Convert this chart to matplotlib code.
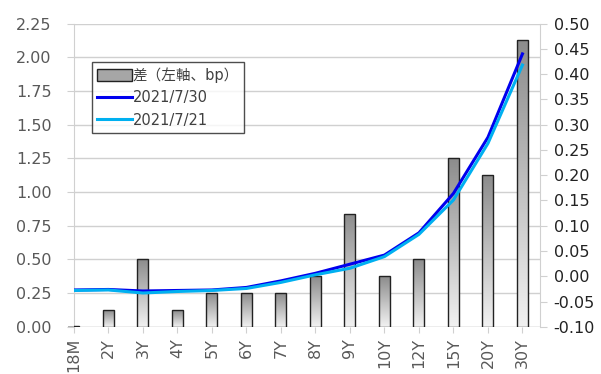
import numpy as np
import matplotlib
matplotlib.use("Agg")
import matplotlib.pyplot as plt
from matplotlib.patches import Patch
from matplotlib.lines import Line2D

plt.rcParams['font.family'] = ['DejaVu Sans', 'Noto Sans CJK JP']

# data
tenors = ['18M', '2Y', '3Y', '4Y', '5Y', '6Y', '7Y', '8Y', '9Y', '10Y', '12Y', '15Y', '20Y', '30Y']
diff_bp = [0.005, 0.125, 0.5, 0.125, 0.25, 0.25, 0.25, 0.375, 0.84, 0.375, 0.5, 1.25, 1.125, 2.125]
yld_0730 = [-0.027, -0.026, -0.029, -0.028, -0.027, -0.022, -0.009, 0.006, 0.024, 0.042, 0.086, 0.164, 0.275, 0.44]
yld_0721 = [-0.028, -0.027, -0.033, -0.030, -0.028, -0.024, -0.012, 0.003, 0.016, 0.039, 0.083, 0.151, 0.263, 0.418]

left_ticks = np.arange(0, 2.26, 0.25)
right_ticks = np.arange(-0.10, 0.501, 0.05)
gray_txt = '#595959'
grid_col = '#d0d0d0'

fig = plt.figure(figsize=(6.01, 3.74), dpi=100)
ax = fig.add_axes([0.123, 0.126, 0.775, 0.811])
x = np.arange(len(tenors))

bars = ax.bar(x, diff_bp, width=0.32, color='none', edgecolor='#222222', linewidth=1.0, zorder=3)
# vertical gradient fill for each bar
grad = np.linspace(0, 1, 256).reshape(-1, 1)
cmap = matplotlib.colors.LinearSegmentedColormap.from_list('g', ['#f2f2f2', '#8c8c8c'])
for b in bars:
    bx, by = b.get_x(), b.get_y()
    w, h = b.get_width(), b.get_height()
    im = ax.imshow(grad, extent=[bx, bx + w, by, by + h], aspect='auto', origin='lower',
                   cmap=cmap, zorder=2)
    im.set_clip_path(b)

ax.set_xlim(0, 13.5)
ax.set_ylim(0, 2.25)
ax.set_yticks(left_ticks)
ax.set_yticklabels([f'{v:.2f}' for v in left_ticks])
ax.set_xticks(x)
ax.set_xticklabels(tenors, rotation=90)
ax.grid(axis='y', color=grid_col, linewidth=1.0, zorder=0)
ax.set_axisbelow(True)
for s in ['top', 'right', 'bottom']:
    ax.spines[s].set_visible(False)
ax.spines['left'].set_color(grid_col)
ax.tick_params(axis='y', colors=grid_col, labelcolor=gray_txt, labelsize=11.5, length=5, pad=11)
ax.tick_params(axis='x', colors=grid_col, labelcolor=gray_txt, labelsize=11.5, length=4, pad=4)
ax.axhline(0, color=grid_col, linewidth=1.0, zorder=1)

ax2 = ax.twinx()
ax2.plot(x, yld_0730, color='#0000ee', linewidth=2.2, zorder=4)
ax2.plot(x, yld_0721, color='#00b0f0', linewidth=2.2, zorder=4)
ax2.set_ylim(-0.10, 0.50)
ax2.set_yticks(right_ticks)
ax2.set_yticklabels([f'{v:.2f}' for v in right_ticks])
for s in ['top', 'left', 'bottom']:
    ax2.spines[s].set_visible(False)
ax2.spines['right'].set_color(grid_col)
ax2.tick_params(axis='y', colors=grid_col, labelcolor='#222222', labelsize=11.5, length=5, pad=5)

handles = [Patch(facecolor='#a6a6a6', edgecolor='#222222', linewidth=1.0),
           Line2D([], [], color='#0000ee', linewidth=2.2),
           Line2D([], [], color='#00b0f0', linewidth=2.2)]
labels = ['差（左軸、bp）', '2021/7/30', '2021/7/21']
leg = ax2.legend(handles, labels, loc='upper left', bbox_to_anchor=(0.038, 0.872),
                 frameon=True, fancybox=False, edgecolor='#222222',
                 handlelength=2.4, handleheight=0.8, handletextpad=0.05, borderpad=0.35,
                 labelspacing=0.5, borderaxespad=0,
                 prop={'family': ['DejaVu Sans', 'Noto Sans CJK JP'], 'size': 10.5})
leg.get_frame().set_linewidth(1.0)
for t in leg.get_texts():
    t.set_color('#404040')

fig.savefig('out.png', dpi=100)
